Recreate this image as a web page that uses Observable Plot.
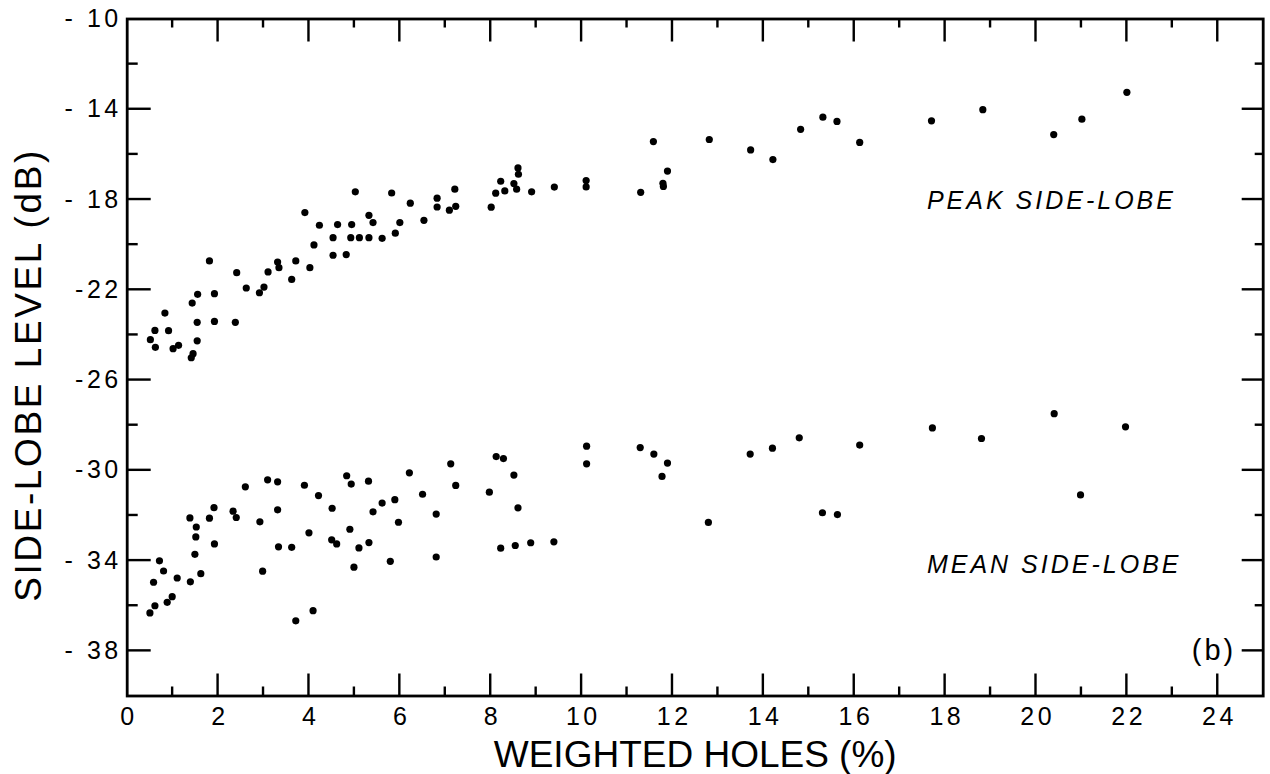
<!DOCTYPE html>
<html>
<head>
<meta charset="utf-8">
<script src="https://cdn.jsdelivr.net/npm/d3@7"></script>
<script src="https://cdn.jsdelivr.net/npm/@observablehq/plot@0.6"></script>
<style>
  html, body { margin: 0; padding: 0; background: #fff; }
  #chart svg { display: block; }
</style>
</head>
<body>
<div id="chart"></div>
<script>
// Peak side-lobe level (dB) against percentage of weighted holes
const peakX = [
  0.51, 0.61, 0.62, 0.83, 0.91, 1.01, 1.13, 1.41, 1.45, 1.43,
  1.55, 1.54, 1.54, 1.81, 1.92, 1.92, 2.38, 2.41, 2.62, 2.91,
  3.01, 3.10, 3.31, 3.34, 3.62, 3.71, 4.02, 4.11, 4.53, 4.82,
  3.91, 4.23, 4.53, 4.63, 4.94, 4.92, 5.02, 5.11, 5.32, 5.41,
  5.32, 5.61, 5.82, 5.90, 6.00, 6.23, 6.53, 6.82, 6.82, 7.09,
  7.23, 7.21, 8.01, 8.11, 8.22, 8.31, 8.51, 8.57, 8.60, 8.61,
  8.90, 9.40, 10.10, 10.10, 11.30, 11.58, 11.79, 11.80, 11.89, 12.81,
  13.72, 14.21, 14.82, 15.31, 15.62, 16.12, 17.70, 18.83, 20.39, 21.01,
  22.00
];
const peakY = [
  -24.21, -23.80, -24.55, -23.03, -23.81, -24.61, -24.46, -25.01, -24.83, -22.59,
  -22.20, -23.44, -24.26, -20.72, -22.17, -23.40, -23.44, -21.24, -21.92, -22.13,
  -21.88, -21.21, -20.77, -21.02, -21.54, -20.72, -21.02, -20.01, -20.47, -20.44,
  -18.58, -19.14, -19.69, -19.11, -19.11, -19.69, -17.66, -19.69, -18.70, -19.02,
  -19.69, -19.72, -17.71, -19.49, -19.02, -18.16, -18.92, -17.94, -18.33, -18.47,
  -18.30, -17.54, -18.34, -17.72, -17.19, -17.62, -17.29, -17.54, -16.60, -16.88,
  -17.66, -17.45, -17.16, -17.44, -17.68, -15.43, -17.28, -17.42, -16.74, -15.34,
  -15.80, -16.23, -14.89, -14.35, -14.54, -15.47, -14.51, -14.02, -15.12, -14.44,
  -13.25
];

// Mean side-lobe level (dB) against percentage of weighted holes
const meanX = [
  0.50, 0.61, 0.88, 0.99, 0.58, 0.71, 0.80, 1.10, 1.39, 1.62,
  1.49, 1.51, 1.52, 1.38, 1.81, 1.91, 1.92, 2.33, 2.40, 2.60,
  2.92, 2.98, 3.09, 3.31, 3.31, 3.33, 3.62, 3.71, 3.90, 4.00,
  4.09, 4.21, 4.51, 4.50, 4.61, 4.83, 4.93, 4.90, 4.99, 5.10,
  5.31, 5.32, 5.41, 5.61, 5.79, 5.89, 5.97, 6.21, 6.50, 6.80,
  6.80, 7.12, 7.23, 7.97, 8.12, 8.28, 8.22, 8.51, 8.60, 8.54,
  8.88, 9.39, 10.11, 10.11, 11.29, 11.59, 11.89, 11.77, 12.79, 13.71,
  14.20, 14.79, 15.30, 15.63, 16.12, 17.72, 18.80, 20.40, 20.98, 21.97
];
const meanY = [
  -36.32, -36.00, -35.85, -35.60, -34.96, -34.01, -34.46, -34.77, -34.94, -34.58,
  -33.72, -32.95, -32.51, -32.11, -32.12, -31.65, -33.26, -31.81, -32.09, -30.73,
  -32.28, -34.47, -30.42, -30.51, -31.75, -33.39, -33.41, -36.67, -30.66, -32.77,
  -36.22, -31.12, -31.68, -33.08, -33.26, -30.24, -30.61, -32.61, -34.29, -33.44,
  -30.48, -33.20, -31.84, -31.45, -34.03, -31.30, -32.30, -30.11, -31.06, -31.94,
  -33.84, -29.71, -30.67, -30.97, -29.39, -29.48, -33.45, -30.21, -31.66, -33.33,
  -33.21, -33.17, -28.93, -29.71, -28.99, -29.28, -29.68, -30.27, -32.31, -29.28,
  -29.02, -28.56, -31.88, -31.96, -28.88, -28.12, -28.59, -27.49, -31.09, -28.07
];

// Axis extents, ticks and their labels
const xDomain = [0, 25];
const yDomain = [-40, -10];
const xMajorTicks = [2, 4, 6, 8, 10, 12, 14, 16, 18, 20, 22, 24];
const xMinorTicks = [1, 3, 5, 7, 9, 11, 13, 15, 17, 19, 21, 23];
const xTickValues = [0, 2, 4, 6, 8, 10, 12, 14, 16, 18, 20, 22, 24];
const xTickLabels = ["0", "2", "4", "6", "8", "10", "12", "14", "16", "18", "20", "22", "24"];
const yMajorTicks = [-14, -18, -22, -26, -30, -34, -38];
const yMinorTicks = [-12, -16, -20, -24, -28, -32, -36];
const yTickValues = [-10, -14, -18, -22, -26, -30, -34, -38];
const yTickLabels = ["- 10", "- 14", "- 18", "-22", "-26", "-30", "- 34", "- 38"];

// Curve annotations
const curveNames = ["PEAK SIDE-LOBE", "MEAN SIDE-LOBE"];
const curveNameX = [17.6, 17.6];
const curveNameY = [-18.05, -34.2];

const points = [
  ...peakX.map((x, i) => ({x, y: peakY[i], series: "peak"})),
  ...meanX.map((x, i) => ({x, y: meanY[i], series: "mean"}))
];
const xLabels = xTickValues.map((v, i) => ({v, label: xTickLabels[i]}));
const yLabels = yTickValues.map((v, i) => ({v, label: yTickLabels[i]}));
const notes = curveNames.map((t, i) => ({t, x: curveNameX[i], y: curveNameY[i]}));

const W = 1270, H = 774;
const mL = 126.7, mR = 7.3, mT = 18.5, mB = 78.5;
const font = "'Liberation Sans', Arial, sans-serif";
const ink = "#000";
const half = 1.2; // half the stroke width of a tick

// Inward tick marks drawn as thin rectangles anchored on a frame edge
const ticksUp = (values, len) => Plot.rect(values, {
  x1: (d) => d, x2: (d) => d, y1: yDomain[0], y2: yDomain[0],
  insetLeft: -half, insetRight: -half, insetTop: -len, fill: ink
});
const ticksDown = (values, len) => Plot.rect(values, {
  x1: (d) => d, x2: (d) => d, y1: yDomain[1], y2: yDomain[1],
  insetLeft: -half, insetRight: -half, insetBottom: -len, fill: ink
});
const ticksRight = (values, len) => Plot.rect(values, {
  y1: (d) => d, y2: (d) => d, x1: xDomain[0], x2: xDomain[0],
  insetTop: -half, insetBottom: -half, insetRight: -len, fill: ink
});
const ticksLeft = (values, len) => Plot.rect(values, {
  y1: (d) => d, y2: (d) => d, x1: xDomain[1], x2: xDomain[1],
  insetTop: -half, insetBottom: -half, insetLeft: -len, fill: ink
});

// Wide, hand-lettered spacing for a text mark
const spaced = (s) => (index, scales, values, dims, context, next) => {
  const g = next(index, scales, values, dims, context);
  g.setAttribute("letter-spacing", s);
  return g;
};

const chart = Plot.plot({
  width: W,
  height: H,
  marginLeft: mL,
  marginRight: mR,
  marginTop: mT,
  marginBottom: mB,
  x: {domain: xDomain, axis: null},
  y: {domain: yDomain, axis: null},
  style: {fontFamily: font, color: ink, background: "#fff"},
  marks: [
    ticksUp(xMajorTicks, 22),
    ticksUp(xMinorTicks, 9),
    ticksDown(xMajorTicks, 23),
    ticksDown(xMinorTicks, 9),
    ticksRight(yMajorTicks, 24),
    ticksRight(yMinorTicks, 11),
    ticksLeft(yMajorTicks, 21),
    ticksLeft(yMinorTicks, 8),
    Plot.frame({stroke: ink, strokeWidth: 2.8}),

    // measured side-lobe levels
    Plot.dot(points, {x: "x", y: "y", r: 3.6, fill: ink, stroke: "none"}),

    // tick labels
    Plot.text(xLabels, {
      x: "v", text: "label", frameAnchor: "bottom", dy: 21, dx: 1.75,
      lineAnchor: "middle", textAnchor: "middle", fontSize: 25, fill: ink,
      render: spaced(3.5)
    }),
    Plot.text(yLabels, {
      y: "v", text: "label", frameAnchor: "left", dx: -5.5,
      lineAnchor: "middle", textAnchor: "end", fontSize: 25, fill: ink,
      render: spaced(3.5)
    }),

    // axis titles
    Plot.text(["WEIGHTED HOLES (%)"], {
      frameAnchor: "bottom", dy: 59, lineAnchor: "middle", textAnchor: "middle",
      fontSize: 37, fill: ink
    }),
    Plot.text(["SIDE-LOBE LEVEL (dB)"], {
      frameAnchor: "left", dx: 28.5 - mL, dy: 374.5 - (mT + (H - mT - mB) / 2),
      rotate: -90, lineAnchor: "middle", textAnchor: "middle",
      fontSize: 37, fill: ink, render: spaced(2.6)
    }),

    // curve names and panel letter
    Plot.text(notes, {
      x: "x", y: "y", text: "t", fontSize: 25, fontStyle: "italic",
      lineAnchor: "middle", textAnchor: "start", fill: ink, render: spaced(3)
    }),
    Plot.text([{y: -38, label: "(b)"}], {
      y: "y", text: "label", frameAnchor: "right", dx: -27,
      lineAnchor: "middle", textAnchor: "end", fontSize: 29, fill: ink,
      render: spaced(3)
    })
  ]
});

document.getElementById("chart").appendChild(chart);
</script>
</body>
</html>
